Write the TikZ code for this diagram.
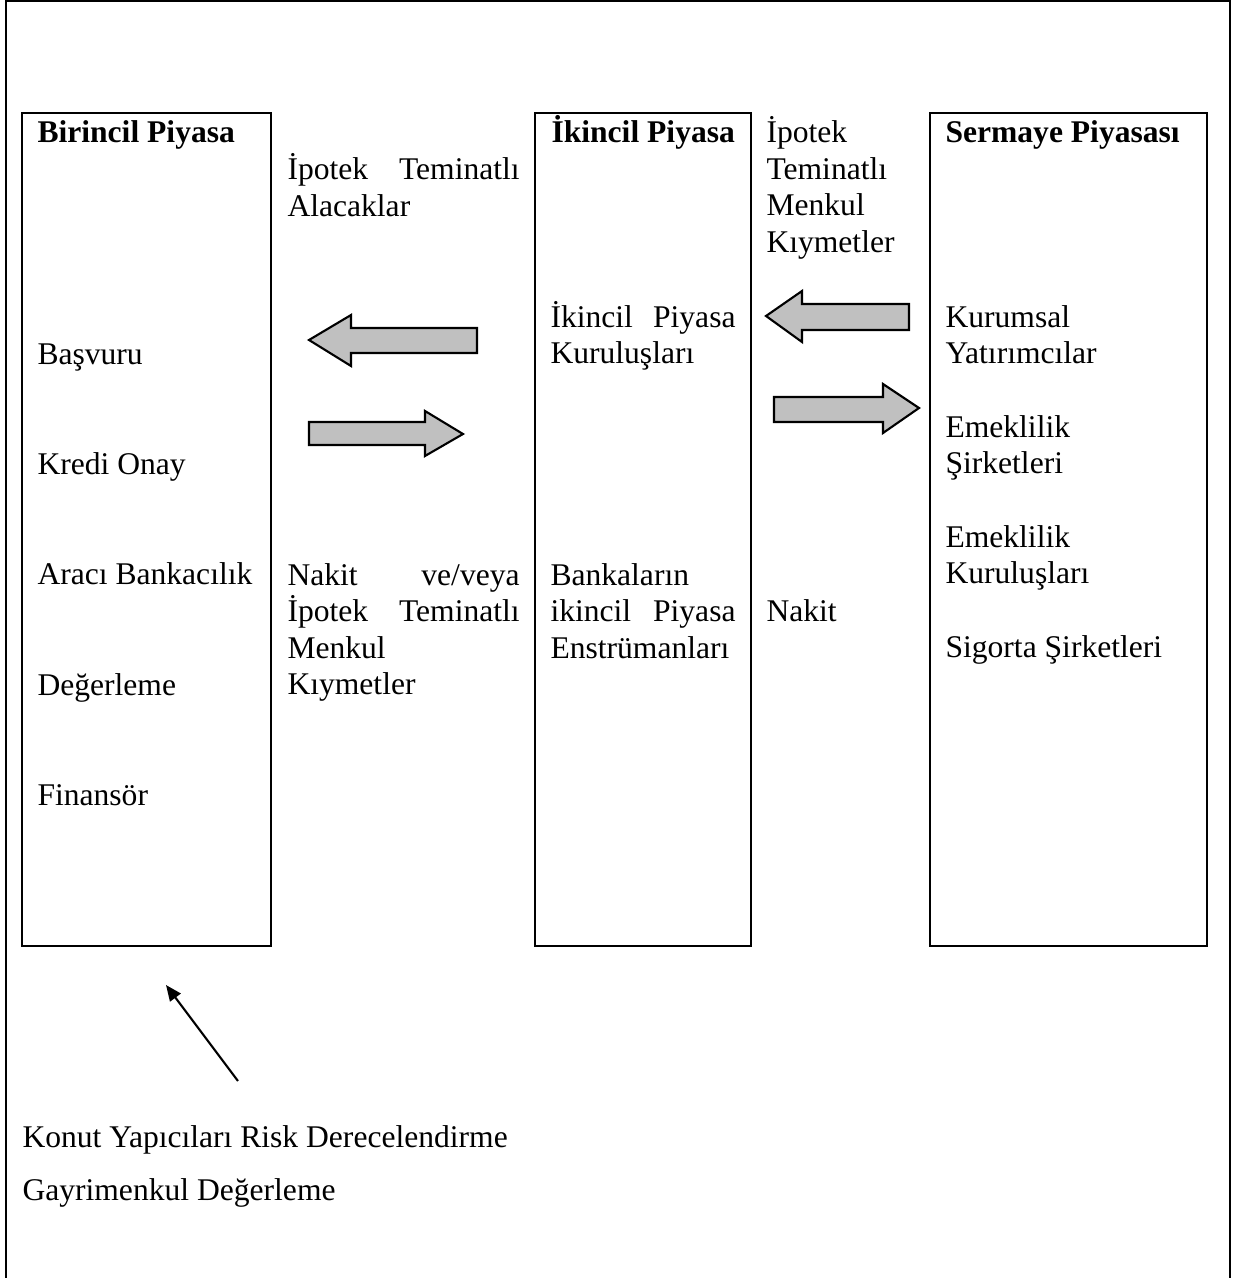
\documentclass[tikz,border=0pt]{standalone}
\usepackage{fontspec}
\setmainfont{Liberation Serif}
\usetikzlibrary{arrows.meta}
\definecolor{okgri}{RGB}{192,192,192}

\begin{document}
\begin{tikzpicture}[x=0.38pt,y=-0.38pt,
  yazi/.style={font=\fontsize{12pt}{13.87pt}\selectfont, anchor=base west, inner sep=0pt},
  baslik/.style={yazi, font=\fontsize{12pt}{13.87pt}\selectfont\bfseries},
  blok/.style={yazi, text width=#1, align=justify},
  liste/.style={yazi, text width=100pt, align=left},
  kutu/.style={line width=0.8pt},
  blokok/.style={draw=black, line width=0.8pt, fill=okgri, line join=miter}]
\useasboundingbox (0,0) rectangle (1237,1278);
% dis cerceve (alt kenar gorunmuyor)
\draw[kutu] (6,1278) -- (6,1) -- (1230,1) -- (1230,1278);
% piyasa kutulari
\draw[kutu] (22,113) rectangle (271,946);
\draw[kutu] (535,113) rectangle (751,946);
\draw[kutu] (930,113) rectangle (1207,946);
% birincil piyasa
\node[baslik] (birincil) at (37,143) {Birincil Piyasa};
\node[yazi] (basvuru) at (37,364) {Başvuru};
\node[yazi] (kredi) at (37,474) {Kredi Onay};
\node[yazi] (araci) at (37,584) {Aracı Bankacılık};
\node[yazi] (degerleme) at (37,695) {Değerleme};
\node[yazi] (finansor) at (37,805) {Finansör};
% ara metin
\node[blok=88.2pt] (alacak) at (287,180) {İpotek Teminatlı\linebreak Alacaklar};
\node[blok=88.2pt] (nakitmenkul) at (287,585) {Nakit ve/veya\linebreak İpotek Teminatlı\linebreak Menkul\newline Kıymetler};
% ikincil piyasa
\node[baslik] (ikincil) at (551,143) {İkincil Piyasa};
\node[blok=70.3pt] (kuruluslar) at (550,327) {İkincil Piyasa\linebreak Kuruluşları};
\node[blok=70.3pt] (enstruman) at (550,585) {Bankaların\newline ikincil Piyasa\linebreak Enstrümanları};
\node[liste] (menkul) at (766,143) {İpotek\\Teminatlı\\Menkul\\Kıymetler};
\node[yazi] (nakit) at (766,621) {Nakit};
% sermaye piyasasi
\node[baslik] (sermaye) at (945,143) {Sermaye Piyasası};
\node[liste] (kurumsal) at (945,327) {Kurumsal\\Yatırımcılar};
\node[liste] (emeklilik) at (945,437) {Emeklilik\\Şirketleri};
\node[liste] (emekkurulus) at (945,547) {Emeklilik\\Kuruluşları};
\node[yazi] (sigorta) at (945,657) {Sigorta Şirketleri};
% blok oklar
\draw[blokok] (477,328) -- (351,328) -- (351,315) -- (309,340) -- (351,366) -- (351,353) -- (477,353) -- cycle;
\draw[blokok] (309,422) -- (425,422) -- (425,411) -- (463,434) -- (425,456) -- (425,445) -- (309,445) -- cycle;
\draw[blokok] (909,304) -- (802,304) -- (802,291) -- (766,316) -- (802,342) -- (802,330) -- (909,330) -- cycle;
\draw[blokok] (774,397) -- (883,397) -- (883,384) -- (919,408) -- (883,433) -- (883,422) -- (774,422) -- cycle;
% alt metin ve ok
\node[yazi] (konut) at (22,1147) {Konut Yapıcıları Risk Derecelendirme};
\node[yazi] (gayrimenkul) at (22,1200) {Gayrimenkul Değerleme};
\coordinate (okbas) at (238,1081);
\coordinate (okuc) at (166,985);
\draw[line width=0.8pt, -{Triangle[length=6pt,width=5pt]}] (okbas) -- (okuc);
\end{tikzpicture}
\end{document}
